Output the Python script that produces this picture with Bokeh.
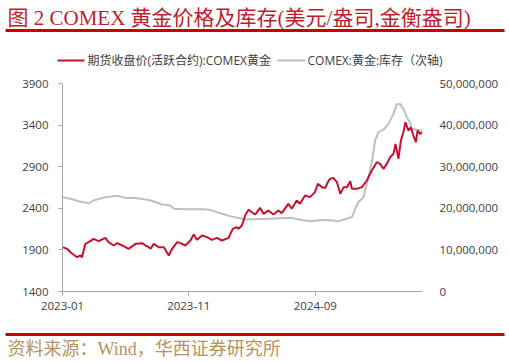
import pandas as pd
from bokeh.plotting import figure
from bokeh.layouts import column
from bokeh.models import (Range1d, LinearAxis, FixedTicker, NumeralTickFormatter,
                          DatetimeTickFormatter, Label, BoxAnnotation)
from bokeh.embed import file_html
from bokeh.resources import INLINE

TITLE = "图 2 COMEX 黄金价格及库存(美元/盎司,金衡盎司)"
SOURCE = "资料来源：Wind，华西证券研究所"
PRICE_NAME = "期货收盘价(活跃合约):COMEX黄金"
STOCK_NAME = "COMEX:黄金:库存（次轴)"

X_TICK_LABELS = ["2023-01", "2023-11", "2024-09"]
LEFT_TICKS = [1400, 1900, 2400, 2900, 3400, 3900]
RIGHT_TICKS = [0, 10000000, 20000000, 30000000, 40000000, 50000000]

PRICE_DATES = [
    "2023-01-02", "2023-01-12", "2023-01-20", "2023-02-05", "2023-02-13", "2023-02-17",
    "2023-02-25", "2023-03-05", "2023-03-17", "2023-03-29", "2023-04-14", "2023-04-22",
    "2023-05-04", "2023-05-13", "2023-05-25", "2023-06-09", "2023-06-26", "2023-07-12",
    "2023-07-20", "2023-07-28", "2023-08-01", "2023-08-09", "2023-08-21", "2023-09-02",
    "2023-09-14", "2023-09-22", "2023-10-04", "2023-10-12", "2023-10-24", "2023-11-05",
    "2023-11-13", "2023-11-21", "2023-12-03", "2023-12-15", "2023-12-27", "2024-01-08",
    "2024-01-20", "2024-02-05", "2024-02-15", "2024-02-25", "2024-02-29", "2024-03-08",
    "2024-03-16", "2024-03-24", "2024-04-01", "2024-04-09", "2024-04-21", "2024-04-29",
    "2024-05-11", "2024-05-23", "2024-06-04", "2024-06-12", "2024-06-28", "2024-07-06",
    "2024-07-18", "2024-07-26", "2024-08-07", "2024-08-19", "2024-08-31", "2024-09-07",
    "2024-09-17", "2024-09-25", "2024-10-01", "2024-10-06", "2024-10-14", "2024-10-23",
    "2024-10-31", "2024-11-08", "2024-11-16", "2024-11-24", "2024-11-28", "2024-12-10",
    "2024-12-22", "2025-01-03", "2025-01-15", "2025-01-27", "2025-02-04", "2025-02-12",
    "2025-02-20", "2025-02-28", "2025-03-08", "2025-03-13", "2025-03-20", "2025-03-26",
    "2025-04-01", "2025-04-06", "2025-04-13", "2025-04-19", "2025-04-25", "2025-05-01",
    "2025-05-05", "2025-05-11", "2025-05-17",
]
PRICE_VALUES = [
    1932, 1913, 1872, 1812, 1833, 1812,
    1973, 1993, 2033, 2005, 2045, 1993,
    1953, 1981, 1953, 1913, 1973, 1981,
    1953, 1932, 1913, 1973, 1932, 1932,
    1833, 1913, 1993, 1981, 1953, 2013,
    2085, 2021, 2073, 2053, 2021, 2045,
    2013, 2045, 2153, 2173, 2153, 2193,
    2313, 2382, 2353, 2325, 2406, 2334,
    2373, 2325, 2373, 2342, 2454, 2394,
    2494, 2454, 2554, 2534, 2594, 2694,
    2654, 2645, 2714, 2754, 2766, 2714,
    2574, 2654, 2654, 2726, 2634, 2634,
    2654, 2734, 2854, 2954, 2934, 2874,
    2934, 3014, 3054, 3174, 2994, 3214,
    3314, 3434, 3334, 3374, 3274, 3194,
    3334, 3294, 3314,
]

STOCK_DATES = [
    "2023-01-02", "2023-01-20", "2023-02-09", "2023-03-05", "2023-03-17", "2023-04-14",
    "2023-05-13", "2023-06-02", "2023-06-26", "2023-07-28", "2023-08-13", "2023-08-29",
    "2023-09-18", "2023-09-26", "2023-10-24", "2023-12-11", "2023-12-27", "2024-01-20",
    "2024-02-13", "2024-03-04", "2024-03-16", "2024-05-11", "2024-07-06", "2024-07-30",
    "2024-08-23", "2024-09-12", "2024-10-06", "2024-10-26", "2024-11-16", "2024-11-28",
    "2024-12-06", "2024-12-14", "2024-12-26", "2025-01-03", "2025-01-15", "2025-01-23",
    "2025-01-31", "2025-02-12", "2025-02-24", "2025-03-08", "2025-03-16", "2025-03-24",
    "2025-04-01", "2025-04-09", "2025-04-17", "2025-04-21", "2025-05-03", "2025-05-17",
]
STOCK_VALUES = [
    22670000, 22280000, 21700000, 21200000, 21900000, 22670000,
    23000000, 22500000, 22500000, 22000000, 21500000, 20900000,
    20700000, 19900000, 19800000, 19800000, 19500000, 18700000,
    18000000, 17600000, 17300000, 17500000, 17700000, 17200000,
    16900000, 17200000, 17100000, 16900000, 17500000, 17900000,
    19900000, 21500000, 22700000, 25900000, 31100000, 36300000,
    38300000, 38900000, 40300000, 42700000, 45000000, 45100000,
    43900000, 41900000, 40700000, 39100000, 38900000, 38700000,
]

RED = "#C8102E"
GREY = "#BFBFBF"
TEXT = "#404040"
AXIS = "#A6A6A6"
RULE = "#CC0000"
FONT = "Open Sans, Noto Sans CJK SC"
SERIF = "Liberation Serif, Noto Sans CJK SC"
TICK_SIZE = "11.5px"

W = 509
HEAD_H, MAIN_H, FOOT_H = 70, 255, 37


def blank(height):
    f = figure(width=W, height=height, x_range=Range1d(0, W), y_range=Range1d(height, 0),
               x_axis_location=None, y_axis_location=None,
               min_border=0, min_border_left=0, min_border_right=0,
               min_border_top=0, min_border_bottom=0, frame_align=False,
               output_backend="svg", toolbar_location=None)
    f.xgrid.visible = False
    f.ygrid.visible = False
    f.outline_line_color = None
    f.background_fill_color = "white"
    f.border_fill_color = "white"
    return f


def rule(fig, left, right, top, bottom, color):
    fig.add_layout(BoxAnnotation(left=left, right=right, top=top, bottom=bottom,
                                 fill_color=color, fill_alpha=1, line_color=None))


# ---------- header: title, rule, legend ----------
head = blank(HEAD_H)
head.add_layout(Label(text=TITLE, x=7, y=17, text_baseline="middle", text_font=SERIF,
                      text_font_size="21px", text_color="#BE1E2D"))
rule(head, 5, 504, 28.5, 31.5, RULE)
# legend keys and texts
rule(head, 57, 84, 59, 61, RED)
head.add_layout(Label(text=PRICE_NAME, x=87, y=60, text_baseline="middle", text_font=FONT,
                      text_font_size="12px", text_color=TEXT))
rule(head, 277, 305, 59, 61, GREY)
head.add_layout(Label(text=STOCK_NAME, x=307, y=60, text_baseline="middle", text_font=FONT,
                      text_font_size="12px", text_color=TEXT))

# ---------- main chart ----------
price_x = pd.to_datetime(PRICE_DATES)
stock_x = pd.to_datetime(STOCK_DATES)
tick_x = pd.to_datetime([s + "-01" for s in X_TICK_LABELS])

p = figure(width=W, height=MAIN_H, x_axis_type="datetime",
           output_backend="svg", toolbar_location=None, frame_align=False,
           min_border_left=62, min_border_right=87, min_border_top=13, min_border_bottom=34,
           x_range=Range1d(pd.Timestamp("2023-01-01"), price_x[-1]),
           y_range=Range1d(LEFT_TICKS[0], LEFT_TICKS[-1]))
p.outline_line_color = None
p.background_fill_color = "white"
p.border_fill_color = "white"
p.xgrid.visible = False
p.ygrid.visible = False

p.extra_y_ranges = {"stock": Range1d(RIGHT_TICKS[0], RIGHT_TICKS[-1])}

p.line(stock_x, STOCK_VALUES, y_range_name="stock", line_color=GREY, line_width=2)
p.line(price_x, PRICE_VALUES, line_color=RED, line_width=2)

ya = p.yaxis[0]
ya.ticker = FixedTicker(ticks=LEFT_TICKS)
ya.axis_line_color = AXIS
ya.major_tick_line_color = AXIS
ya.major_tick_out = 4
ya.major_tick_in = 0
ya.minor_tick_line_color = None
ya.major_label_standoff = 10
ya.major_label_text_font = FONT
ya.major_label_text_font_size = TICK_SIZE
ya.major_label_text_color = TEXT

ra = LinearAxis(y_range_name="stock", ticker=FixedTicker(ticks=RIGHT_TICKS),
                formatter=NumeralTickFormatter(format="0,0"))
ra.axis_line_color = None
ra.major_tick_line_color = None
ra.minor_tick_line_color = None
ra.major_label_standoff = 11
ra.major_label_text_font = FONT
ra.major_label_text_font_size = TICK_SIZE
ra.major_label_text_color = TEXT
p.add_layout(ra, "right")

xa = p.xaxis[0]
xa.ticker = FixedTicker(ticks=[t.value // 10**6 for t in tick_x])
fmt = "%Y-%m"
xa.formatter = DatetimeTickFormatter(milliseconds=fmt, seconds=fmt, minsec=fmt, minutes=fmt,
                                     hourmin=fmt, hours=fmt, days=fmt, months=fmt, years=fmt)
xa.axis_line_color = AXIS
xa.major_tick_line_color = AXIS
xa.major_tick_out = 4
xa.major_tick_in = 0
xa.minor_tick_line_color = None
xa.major_label_standoff = 6
xa.major_label_text_font = FONT
xa.major_label_text_font_size = TICK_SIZE
xa.major_label_text_color = TEXT

# ---------- footer: rule and source ----------
foot = blank(FOOT_H)
rule(foot, 5, 504, 7.5, 10.5, RULE)
foot.add_layout(Label(text=SOURCE, x=7, y=23, text_baseline="middle", text_font=SERIF,
                      text_font_size="18px", text_color="#B8925A"))

layout = column(head, p, foot, spacing=0)
open("out.html", "w").write(file_html(layout, INLINE))
